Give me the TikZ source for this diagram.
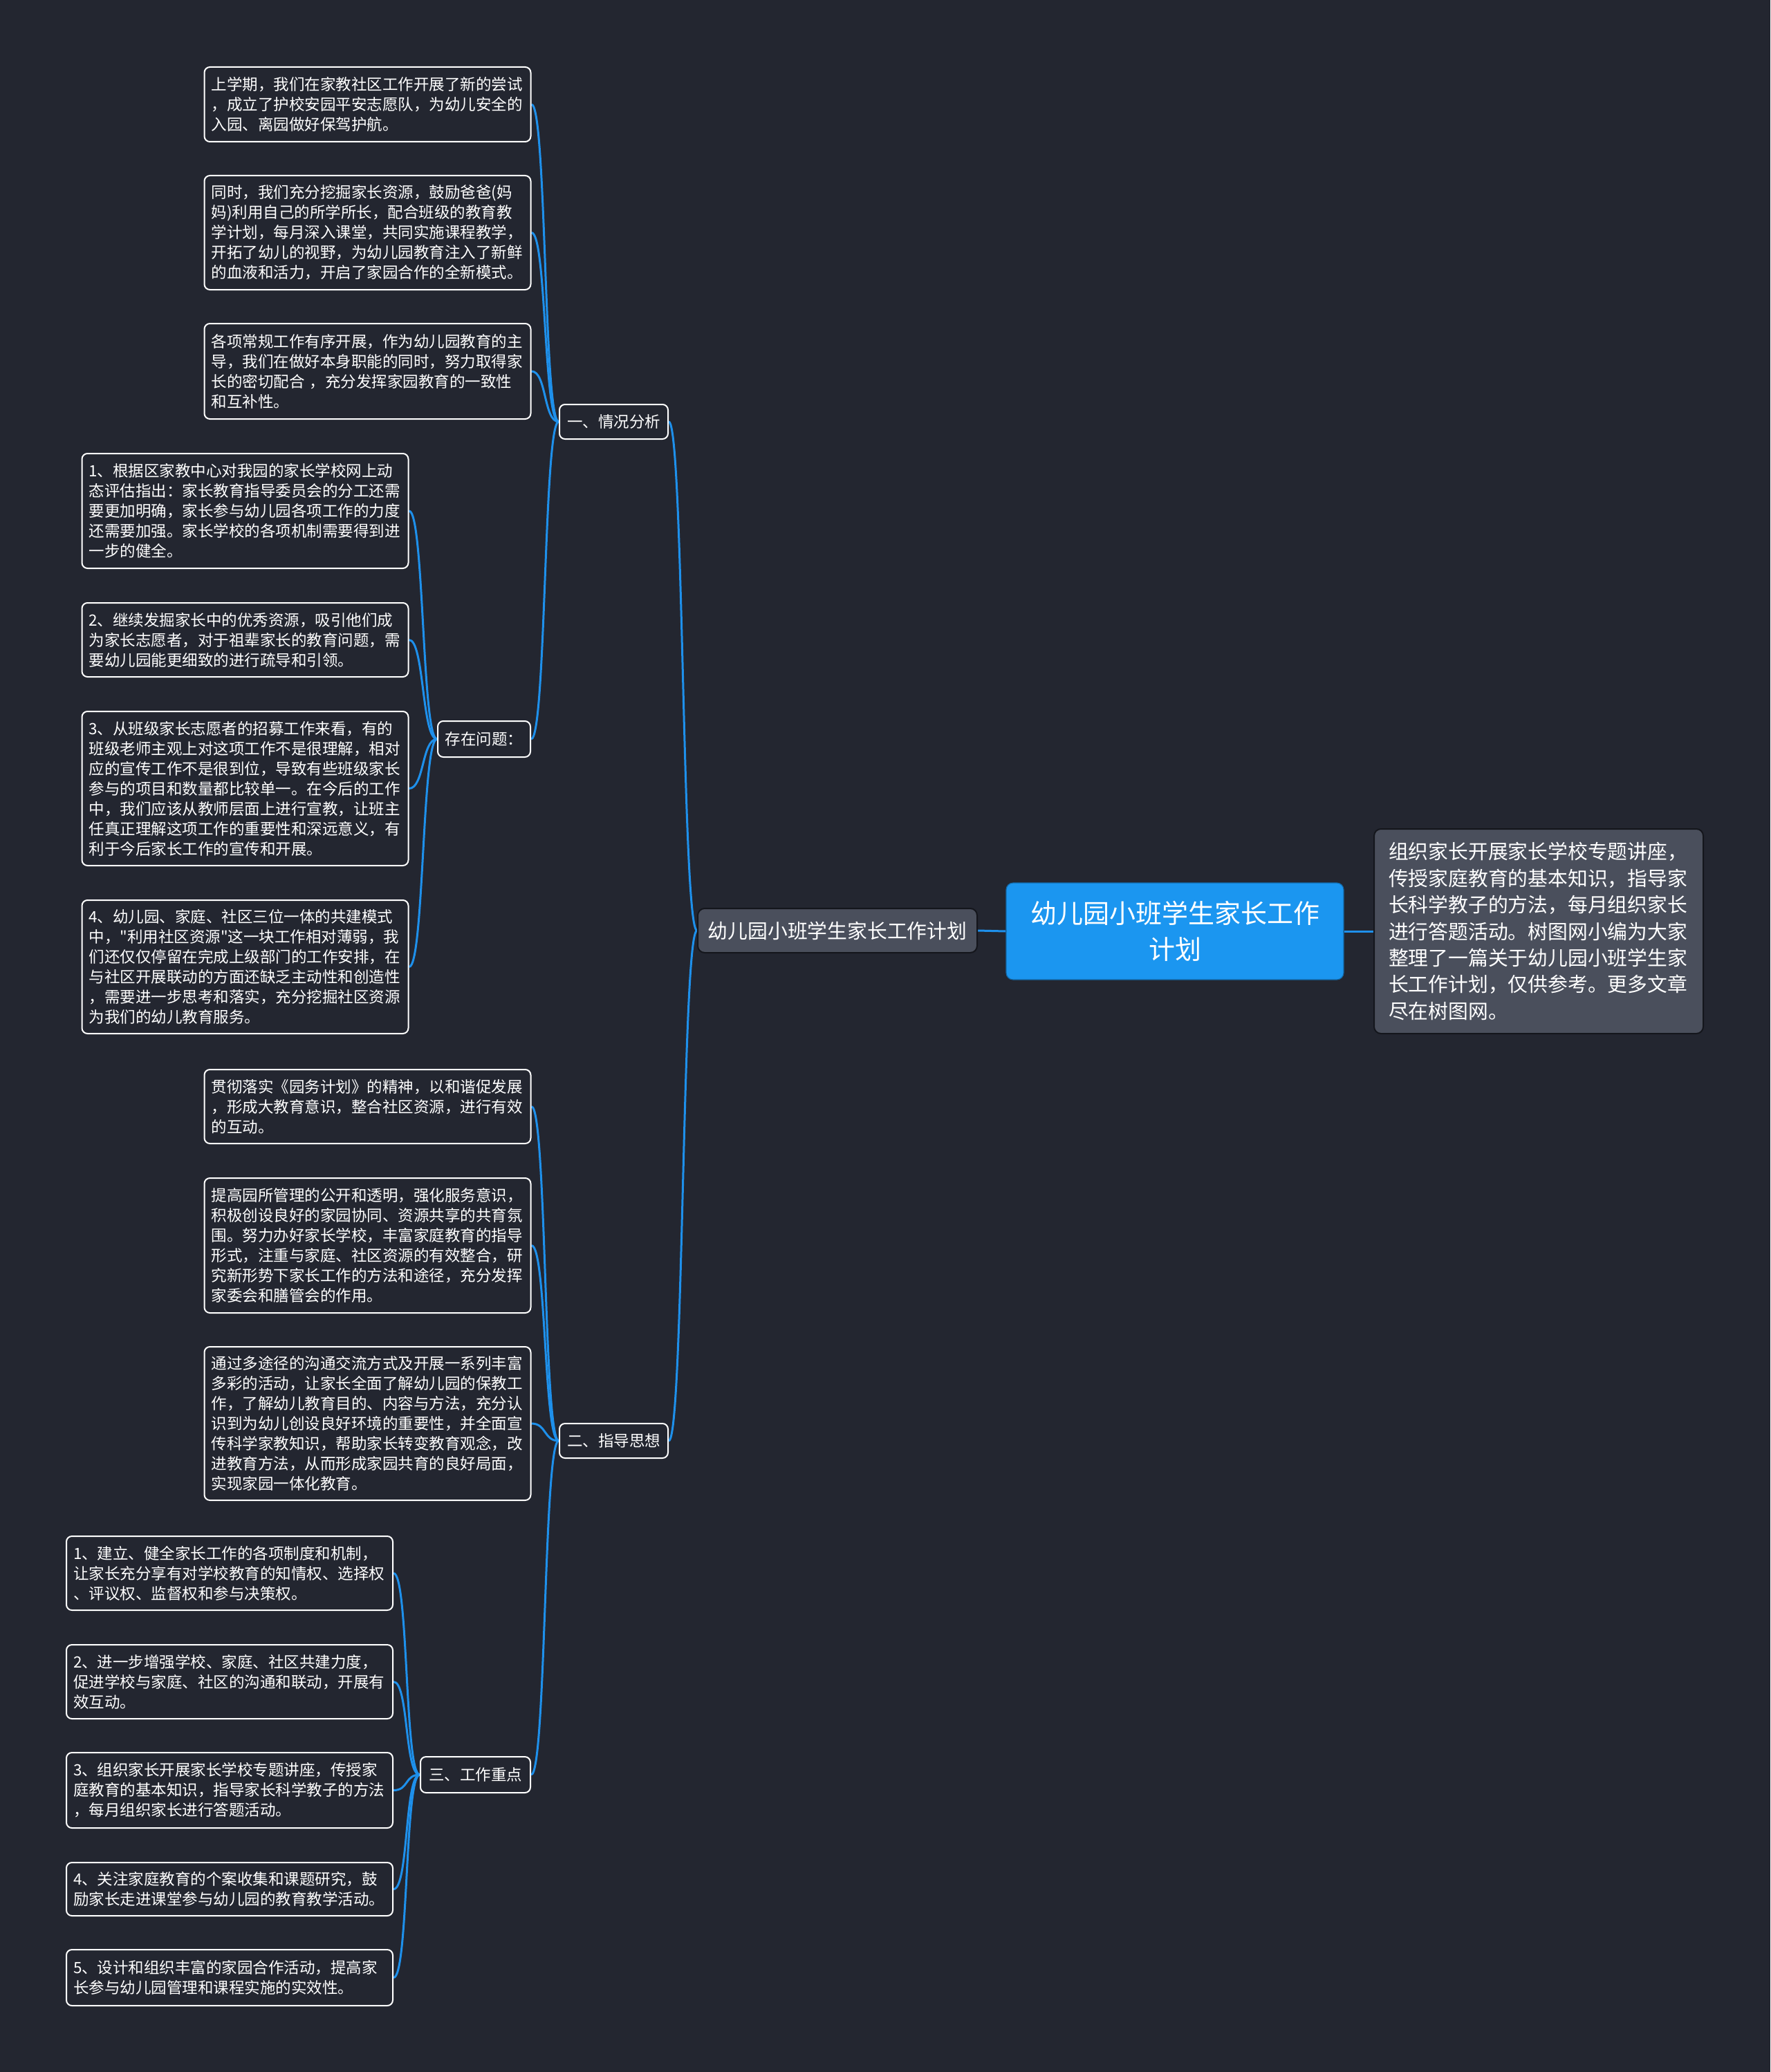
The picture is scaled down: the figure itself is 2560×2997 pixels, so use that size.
\documentclass[tikz,border=0pt]{standalone}
\usepackage{fontspec}
\setmainfont{Noto Sans CJK SC}
\newfontfamily\cjk{Noto Sans CJK SC}
\usetikzlibrary{backgrounds}
\definecolor{bgc}{RGB}{35,38,48}
\definecolor{linec}{RGB}{30,144,235}
\definecolor{grayfill}{RGB}{74,79,92}
\definecolor{darkedge}{RGB}{20,22,28}
\definecolor{bluefill}{RGB}{27,150,240}
\tikzset{
  leaf/.style={draw=white, line width=1pt, fill=bgc, rounded corners=4pt, text=white,
    text width=226pt, inner xsep=5pt, inner ysep=0pt, align=left, minimum width=236pt,
    font=\cjk\fontsize{11.25pt}{14.5pt}\selectfont},
  sub/.style={draw=white, line width=1pt, fill=bgc, rounded corners=4pt, text=white,
    inner sep=0pt, align=center, font=\cjk\fontsize{11.25pt}{14.5pt}\selectfont},
  conn/.style={draw=linec, line width=1.5pt},
}
\begin{document}
\begin{tikzpicture}[x=0.5pt,y=-0.5pt]
\useasboundingbox (0,0) rectangle (2560,2997);

% center and right
\node[fill=bluefill, draw=bluefill!70!black, line width=0.6pt, rounded corners=5pt, text=white, align=center,
  minimum width=244pt, minimum height=70pt, inner sep=0pt,
  font=\cjk\fontsize{19pt}{26pt}\selectfont] (root) at (1699,1347) {幼儿园小班学生家长工作\\计划};
\node[fill=grayfill, draw=darkedge, line width=1pt, rounded corners=5pt, text=white, align=left,
  text width=217pt, inner xsep=10.5pt, inner ysep=0pt, minimum height=148pt,
  font=\cjk\fontsize{14.4pt}{19.2pt}\selectfont] (note) at (2225,1347)
  {组织家长开展家长学校专题讲座，\\传授家庭教育的基本知识，指导家\\长科学教子的方法，每月组织家长\\进行答题活动。树图网小编为大家\\整理了一篇关于幼儿园小班学生家\\长工作计划，仅供参考。更多文章\\尽在树图网。};
\node[fill=grayfill, draw=darkedge, line width=1pt, rounded corners=5pt, text=white,
  minimum width=202pt, minimum height=32pt, inner sep=0pt,
  font=\cjk\fontsize{14.4pt}{19.2pt}\selectfont] (main) at (1211,1346) {幼儿园小班学生家长工作计划};

% level 2
\node[sub, minimum width=78.5pt, minimum height=25pt] (s1) at (887.5,610) {一、情况分析};
\node[sub, minimum width=67pt, minimum height=26pt] (s1p) at (700,1069) {存在问题：};
\node[sub, minimum width=78.5pt, minimum height=25pt] (s2) at (887.5,2084) {二、指导思想};
\node[sub, minimum width=79.5pt, minimum height=26pt] (s3) at (687.5,2567) {三、工作重点};

% leaves of 一
\node[leaf, minimum height=54pt] (b1) at (531.5,151) {上学期，我们在家教社区工作开展了新的尝试\\，成立了护校安园平安志愿队，为幼儿安全的\\入园、离园做好保驾护航。};
\node[leaf, minimum height=82.5pt] (b2) at (531.5,336.5) {同时，我们充分挖掘家长资源，鼓励爸爸(妈\\妈)利用自己的所学所长，配合班级的教育教\\学计划，每月深入课堂，共同实施课程教学，\\开拓了幼儿的视野，为幼儿园教育注入了新鲜\\的血液和活力，开启了家园合作的全新模式。};
\node[leaf, minimum height=69pt] (b3) at (531.5,537) {各项常规工作有序开展，作为幼儿园教育的主\\导，我们在做好本身职能的同时，努力取得家\\长的密切配合 ，充分发挥家园教育的一致性\\和互补性。};

% leaves of 存在问题
\node[leaf, minimum height=83pt] (p1) at (354.5,739) {1、根据区家教中心对我园的家长学校网上动\\态评估指出：家长教育指导委员会的分工还需\\要更加明确，家长参与幼儿园各项工作的力度\\还需要加强。家长学校的各项机制需要得到进\\一步的健全。};
\node[leaf, minimum height=53.5pt] (p2) at (354.5,925.5) {2、继续发掘家长中的优秀资源，吸引他们成\\为家长志愿者，对于祖辈家长的教育问题，需\\要幼儿园能更细致的进行疏导和引领。};
\node[leaf, minimum height=111.5pt] (p3) at (354.5,1140.5) {3、从班级家长志愿者的招募工作来看，有的\\班级老师主观上对这项工作不是很理解，相对\\应的宣传工作不是很到位，导致有些班级家长\\参与的项目和数量都比较单一。在今后的工作\\中，我们应该从教师层面上进行宣教，让班主\\任真正理解这项工作的重要性和深远意义，有\\利于今后家长工作的宣传和开展。};
\node[leaf, minimum height=96.5pt] (p4) at (354.5,1398.5) {4、幼儿园、家庭、社区三位一体的共建模式\\中，"利用社区资源"这一块工作相对薄弱，我\\们还仅仅停留在完成上级部门的工作安排，在\\与社区开展联动的方面还缺乏主动性和创造性\\，需要进一步思考和落实，充分挖掘社区资源\\为我们的幼儿教育服务。};

% leaves of 二
\node[leaf, minimum height=53.5pt] (g1) at (531.5,1600.5) {贯彻落实《园务计划》的精神，以和谐促发展\\，形成大教育意识，整合社区资源，进行有效\\的互动。};
\node[leaf, minimum height=97.5pt] (g2) at (531.5,1801.5) {提高园所管理的公开和透明，强化服务意识，\\积极创设良好的家园协同、资源共享的共育氛\\围。努力办好家长学校，丰富家庭教育的指导\\形式，注重与家庭、社区资源的有效整合，研\\究新形势下家长工作的方法和途径，充分发挥\\家委会和膳管会的作用。};
\node[leaf, minimum height=111pt] (g3) at (531.5,2059) {通过多途径的沟通交流方式及开展一系列丰富\\多彩的活动，让家长全面了解幼儿园的保教工\\作，了解幼儿教育目的、内容与方法，充分认\\识到为幼儿创设良好环境的重要性，并全面宣\\传科学家教知识，帮助家长转变教育观念，改\\进教育方法，从而形成家园共育的良好局面，\\实现家园一体化教育。};

% leaves of 三
\node[leaf, minimum height=53.5pt] (w1) at (332,2275.5) {1、建立、健全家长工作的各项制度和机制，\\让家长充分享有对学校教育的知情权、选择权\\、评议权、监督权和参与决策权。};
\node[leaf, minimum height=53.5pt] (w2) at (332,2432.5) {2、进一步增强学校、家庭、社区共建力度，\\促进学校与家庭、社区的沟通和联动，开展有\\效互动。};
\node[leaf, minimum height=54.5pt] (w3) at (332,2589.5) {3、组织家长开展家长学校专题讲座，传授家\\庭教育的基本知识，指导家长科学教子的方法\\，每月组织家长进行答题活动。};
\node[leaf, minimum height=38.5pt] (w4) at (332,2732.5) {4、关注家庭教育的个案收集和课题研究，鼓\\励家长走进课堂参与幼儿园的教育教学活动。};
\node[leaf, minimum height=40.5pt] (w5) at (332,2860.5) {5、设计和组织丰富的家园合作活动，提高家\\长参与幼儿园管理和课程实施的实效性。};

\begin{scope}[on background layer]
\fill[bgc] (0,0) rectangle (2560,2997);
\draw[conn] (root.west) -- (main.east);
\draw[conn] (root.east) -- (note.west);
\foreach \t in {s1,s2}
  \draw[conn] (main.west) .. controls +(-22,0) and +(22,0) .. (\t.east);
\foreach \t in {b1,b2,b3,s1p}
  \draw[conn] (s1.west) .. controls +(-22,0) and +(22,0) .. (\t.east);
\foreach \t in {p1,p2,p3,p4}
  \draw[conn] (s1p.west) .. controls +(-22,0) and +(22,0) .. (\t.east);
\foreach \t in {g1,g2,g3,s3}
  \draw[conn] (s2.west) .. controls +(-22,0) and +(22,0) .. (\t.east);
\foreach \t in {w1,w2,w3,w4,w5}
  \draw[conn] (s3.west) .. controls +(-22,0) and +(22,0) .. (\t.east);
\end{scope}
\end{tikzpicture}
\end{document}
